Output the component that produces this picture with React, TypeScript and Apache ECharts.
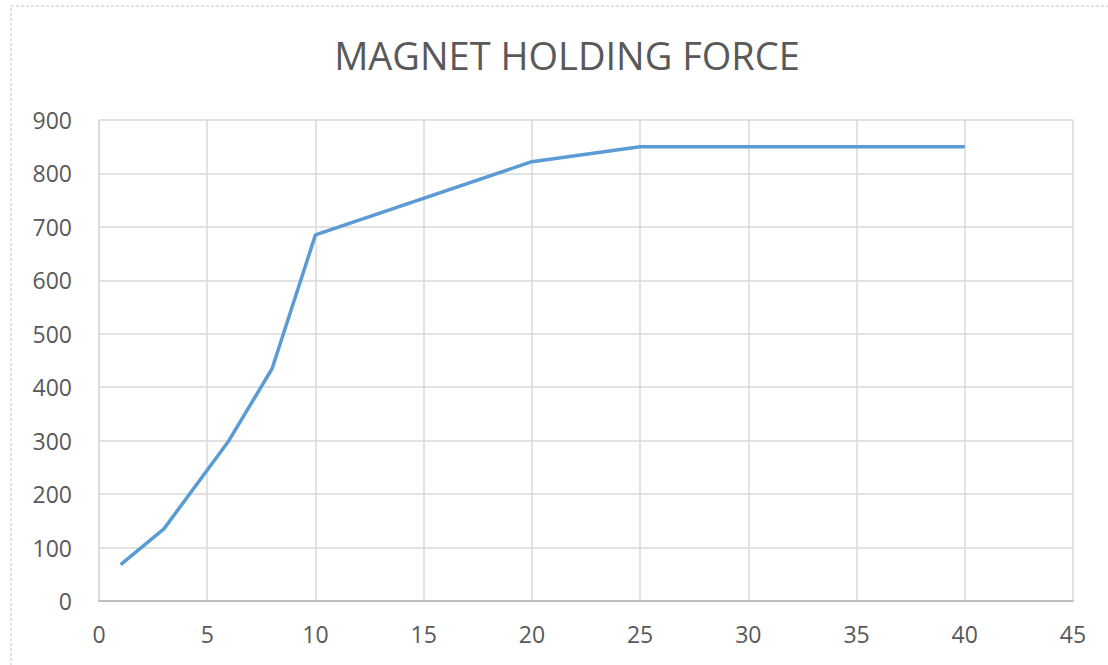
import React, { useEffect, useRef } from "react";
import * as echarts from "echarts";

const titleText = "MAGNET HOLDING FORCE";
const gapValues = [1, 3, 6, 8, 10, 20, 25, 40];
const forceValues = [68, 135, 300, 435, 685, 822, 850, 850];

export default function App() {
  const ref = useRef<HTMLDivElement>(null);
  useEffect(() => {
    if (!ref.current) return;
    const chart = echarts.init(ref.current, null, { renderer: "svg" });
    const font = "'Open Sans', 'Noto Sans', sans-serif";
    chart.setOption({
      animation: false,
      backgroundColor: "#ffffff",
      title: {
        text: titleText,
        left: 562,
        top: 31,
        textAlign: "center",
        textStyle: { fontFamily: font, fontSize: 38, fontWeight: "normal", color: "#595959" },
      },
      graphic: [
        {
          type: "rect",
          shape: { x: 11, y: 6, width: 1120, height: 680 },
          style: { fill: "none", stroke: "#d9d9d9", lineWidth: 1.5, lineDash: [3, 2] },
          silent: true,
        },
      ],
      grid: { left: 99, right: 35, top: 120, bottom: 64, containLabel: false },
      xAxis: {
        type: "value",
        min: 0,
        max: 45,
        interval: 5,
        axisLine: { show: true, lineStyle: { color: "#bfbfbf", width: 2 } },
        axisTick: { show: false },
        axisLabel: { fontFamily: font, fontSize: 23, color: "#595959", margin: 21 },
        splitLine: { show: true, lineStyle: { color: "#d9d9d9", width: 1.5 } },
      },
      yAxis: {
        type: "value",
        min: 0,
        max: 900,
        interval: 100,
        axisLine: { show: true, lineStyle: { color: "#d9d9d9", width: 1.5 } },
        axisTick: { show: false },
        axisLabel: { fontFamily: font, fontSize: 23, color: "#595959", margin: 27 },
        splitLine: { show: true, lineStyle: { color: "#d9d9d9", width: 1.5 } },
      },
      series: [
        {
          type: "line",
          data: gapValues.map((x, i) => [x, forceValues[i]]),
          showSymbol: false,
          symbol: "none",
          lineStyle: { color: "#5b9bd5", width: 3.5 },
        },
      ],
    });
    return () => chart.dispose();
  }, []);
  return (
    <div
      ref={ref}
      style={{ position: "fixed", left: 0, top: 0, width: 1108, height: 665 }}
    />
  );
}
